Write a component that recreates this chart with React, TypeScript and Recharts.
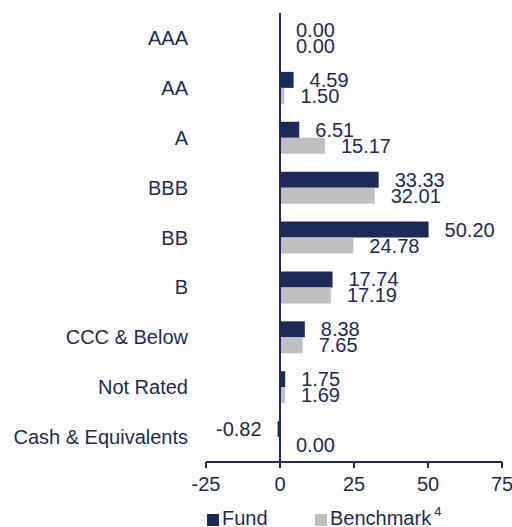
import React from 'react';
import {
  BarChart,
  Bar,
  XAxis,
  YAxis,
  ReferenceLine,
  LabelList,
  Legend,
} from 'recharts';

const NAVY = '#1b2a58';
const GRAY = '#bfbfbf';
const FONT = '"Liberation Sans", Arial, sans-serif';
const FS = 20;

const categories = [
  'AAA',
  'AA',
  'A',
  'BBB',
  'BB',
  'B',
  'CCC & Below',
  'Not Rated',
  'Cash & Equivalents',
];
const fundValues = [0.0, 4.59, 6.51, 33.33, 50.2, 17.74, 8.38, 1.75, -0.82];
const benchmarkValues = [0.0, 1.5, 15.17, 32.01, 24.78, 17.19, 7.65, 1.69, 0.0];
const xTicks = [-25, 0, 25, 50, 75];

const data = categories.map((name, i) => ({
  name,
  fund: fundValues[i],
  benchmark: benchmarkValues[i],
}));

// value label to the right of the bar end (left of it for negatives)
const renderValue = (props: any) => {
  const { x, y, width, height, value } = props;
  const w = Number(width) || 0;
  const neg = Number(value) < 0;
  const end = Number(x) + w;
  return (
    <text
      x={neg ? end - 16 : end + 16}
      y={Number(y) + Number(height) / 2}
      textAnchor={neg ? 'end' : 'start'}
      dominantBaseline="central"
      fill={NAVY}
      fontSize={FS}
      fontFamily={FONT}
    >
      {Number(value).toFixed(2)}
    </text>
  );
};

// legend drawn in the chart's legend slot, positions set by hand
const LegendContent = () => (
  <div style={{ position: 'relative', width: 512, height: 25, fontFamily: FONT, color: NAVY }}>
    <div style={{ position: 'absolute', left: 207, top: 12, width: 12, height: 12, background: NAVY }} />
    <div style={{ position: 'absolute', left: 222, top: 8, fontSize: FS, lineHeight: '16px' }}>Fund</div>
    <div style={{ position: 'absolute', left: 315, top: 12, width: 12, height: 12, background: GRAY }} />
    <div style={{ position: 'absolute', left: 330, top: 8, fontSize: FS, lineHeight: '16px', whiteSpace: 'nowrap' }}>
      Benchmark
      <span style={{ fontSize: 13, position: 'relative', top: -9, marginLeft: 3 }}>4</span>
    </div>
  </div>
);

export default function App() {
  return (
    <div style={{ position: 'absolute', left: 0, top: 0, width: 512, height: 527, background: '#fff' }}>
      <BarChart
        width={512}
        height={527}
        data={data}
        layout="vertical"
        margin={{ top: 13, right: 10, left: 0, bottom: 0 }}
        barGap={0}
        barSize={16}
      >
        <XAxis
          type="number"
          domain={[-25, 75]}
          ticks={xTicks}
          height={40}
          axisLine={{ stroke: NAVY, strokeWidth: 2 }}
          tickLine={{ stroke: NAVY, strokeWidth: 2 }}
          tickSize={6}
          tickMargin={9}
          tick={{ fill: NAVY, fontSize: FS, fontFamily: FONT }}
        />
        <YAxis
          type="category"
          dataKey="name"
          width={206}
          axisLine={false}
          tickLine={false}
          tickSize={0}
          tickMargin={18}
          interval={0}
          tick={{ fill: NAVY, fontSize: FS, fontFamily: FONT }}
        />
        <ReferenceLine x={0} stroke={NAVY} strokeWidth={2} />
        <Bar dataKey="fund" fill={NAVY} minPointSize={0.01} isAnimationActive={false}>
          <LabelList dataKey="fund" content={renderValue} />
        </Bar>
        <Bar dataKey="benchmark" fill={GRAY} minPointSize={0.01} isAnimationActive={false}>
          <LabelList dataKey="benchmark" content={renderValue} />
        </Bar>
        <Legend
          verticalAlign="bottom"
          content={<LegendContent />}
          wrapperStyle={{ left: 0, width: 512, height: 25 }}
        />
      </BarChart>
    </div>
  );
}
